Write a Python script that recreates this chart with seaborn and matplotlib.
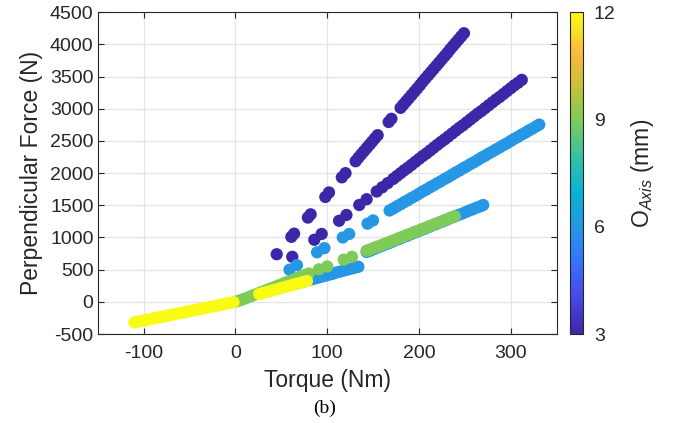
import matplotlib
matplotlib.use("Agg")
import matplotlib.pyplot as plt
import seaborn as sns
import pandas as pd
from matplotlib.colors import LinearSegmentedColormap, Normalize
from matplotlib.cm import ScalarMappable

sns.set_style("white")
plt.rcParams["font.family"] = ["Liberation Sans", "DejaVu Sans"]
plt.rcParams["mathtext.fontset"] = "custom"
plt.rcParams["mathtext.rm"] = "Liberation Sans"
plt.rcParams["mathtext.it"] = "Liberation Sans:italic"
plt.rcParams["axes.unicode_minus"] = False

# ---------------- data ----------------
# O_Axis = 3 mm, steep branch
torque_o3_a = [45, 61, 64, 79, 82, 98, 102, 116, 120,
               131, 134, 137, 140, 143, 146, 149, 152, 155, 167, 170,
               180, 183, 186, 189, 192, 195, 198, 201, 204, 207, 210, 213,
               216, 219, 222, 225, 228, 231, 234, 237, 240, 243, 246, 249]
force_o3_a = [740, 1010, 1060, 1310, 1360, 1630, 1700, 1935, 2000,
              2185, 2240, 2290, 2340, 2390, 2440, 2490, 2540, 2590, 2795, 2845,
              3015, 3065, 3115, 3165, 3215, 3265, 3315, 3365, 3420, 3470, 3520, 3570,
              3620, 3670, 3720, 3770, 3820, 3870, 3925, 3975, 4025, 4075, 4125, 4175]
# O_Axis = 3 mm, second branch
torque_o3_b = [62, 86, 94, 113, 121, 135, 143, 154, 160, 166,
               172, 176, 180, 184, 188, 192, 196, 200, 204, 208, 212, 216,
               220, 224, 228, 232, 236, 240, 244, 248, 252, 256, 260, 264,
               268, 272, 276, 280, 284, 288, 292, 296, 300, 304, 308, 312]
force_o3_b = [700, 965, 1055, 1260, 1350, 1505, 1595, 1715, 1780, 1845,
              1910, 1955, 2000, 2045, 2085, 2130, 2175, 2220, 2265, 2305, 2350, 2395,
              2440, 2485, 2525, 2570, 2615, 2660, 2705, 2745, 2790, 2835, 2880, 2925,
              2965, 3010, 3055, 3100, 3145, 3185, 3230, 3275, 3320, 3365, 3405, 3450]
# O_Axis = 6 mm, upper branch
torque_o6_a = [59, 67, 89, 97, 117, 124, 144, 150,
               168, 172, 176, 180, 184, 188, 192, 196, 200, 204, 208, 212, 216,
               220, 224, 228, 232, 236, 240, 244, 248, 252, 256, 260, 264, 268,
               272, 276, 280, 284, 288, 292, 296, 300, 304, 308, 312, 316, 320,
               324, 328, 331]
force_o6_a = [500, 570, 770, 835, 1000, 1055, 1215, 1265,
              1420, 1450, 1485, 1515, 1550, 1580, 1615, 1645, 1680, 1715, 1745, 1780, 1810,
              1845, 1875, 1910, 1940, 1975, 2010, 2040, 2075, 2105, 2140, 2170, 2205, 2240,
              2270, 2305, 2335, 2370, 2400, 2435, 2465, 2500, 2535, 2565, 2600, 2630, 2665,
              2695, 2730, 2755]
# O_Axis = 6 mm, short lower branch
torque_o6_b = [66, 70, 74, 78, 82, 86, 90, 94, 98, 102, 106, 110, 114, 118, 122, 126, 130, 134]
force_o6_b = [280, 295, 310, 330, 345, 360, 375, 390, 405, 420, 435, 455, 470, 485, 500, 515, 530, 545]
# O_Axis = 6 mm, branch under the 9 mm data
torque_o6_c = [143, 147, 151, 155, 159, 163, 167, 171, 175, 179, 183, 187, 191, 195, 199,
               203, 207, 211, 215, 219, 223, 227, 231, 235, 239, 243, 247, 251, 255, 259,
               263, 267, 270]
force_o6_c = [775, 795, 820, 845, 865, 890, 910, 935, 960, 980, 1005, 1025, 1050, 1075, 1095,
              1120, 1140, 1165, 1190, 1210, 1235, 1255, 1280, 1305, 1325, 1350, 1370, 1395,
              1420, 1440, 1465, 1485, 1505]
# O_Axis = 9 mm
torque_o9 = [0, 4, 8, 12, 16, 20, 24, 28, 32, 36, 40, 44, 48, 52, 56, 60, 64, 68, 72, 76, 80,
             91, 100, 118, 127,
             143, 147, 151, 155, 159, 163, 167, 171, 175, 179, 183, 187, 191, 195, 199,
             203, 207, 211, 215, 219, 223, 227, 231, 235, 239]
force_o9 = [0, 18, 37, 59, 82, 104, 126, 149, 171, 194, 216, 238, 261, 283, 306, 328, 350,
            373, 395, 418, 440,
            505, 550, 655, 700,
            795, 815, 840, 860, 880, 905, 925, 950, 970, 995, 1015, 1040, 1060, 1085, 1105,
            1130, 1150, 1175, 1195, 1220, 1240, 1265, 1285, 1310, 1330]
# O_Axis = 12 mm
torque_o12 = [-110, -106, -102, -98, -94, -90, -86, -82, -78, -74, -70, -66, -62, -58,
              -54, -50, -46, -42, -38, -34, -30, -26, -22, -18, -14, -10, -6, -2,
              26, 30, 34, 38, 42, 46, 50, 54, 58, 62, 66, 70, 74, 78]
force_o12 = [-319, -307, -296, -284, -273, -261, -249, -238, -226, -215, -203, -191, -180,
             -168, -157, -145, -133, -122, -110, -99, -87, -75, -64, -52, -41, -29, -17, -6,
             121, 137, 153, 168, 184, 199, 215, 231, 246, 262, 277, 293, 309, 324]

o_axis_values = [3, 3, 6, 6, 6, 9, 12]
x_ticks = [-100, 0, 100, 200, 300]
y_ticks = [-500, 0, 500, 1000, 1500, 2000, 2500, 3000, 3500, 4000, 4500]
cbar_ticks = [3, 6, 9, 12]

series = [
    (torque_o3_a, force_o3_a),
    (torque_o3_b, force_o3_b),
    (torque_o6_a, force_o6_a),
    (torque_o6_b, force_o6_b),
    (torque_o6_c, force_o6_c),
    (torque_o9, force_o9),
    (torque_o12, force_o12),
]
frames = [pd.DataFrame({"Torque": t, "Force": f, "O": o})
          for (t, f), o in zip(series, o_axis_values)]
df = pd.concat(frames, ignore_index=True)

# parula-like colormap
parula = LinearSegmentedColormap.from_list("parula", [
    (0.000, (0.2422, 0.1504, 0.6603)),
    (0.125, (0.2760, 0.3000, 0.9300)),
    (0.250, (0.1900, 0.4900, 0.9800)),
    (0.333, (0.1500, 0.5900, 0.9000)),
    (0.440, (0.0300, 0.7000, 0.8200)),
    (0.550, (0.2000, 0.7600, 0.6500)),
    (0.667, (0.5000, 0.7950, 0.3500)),
    (0.780, (0.8000, 0.7500, 0.2300)),
    (0.880, (0.9900, 0.7300, 0.2400)),
    (0.940, (0.9700, 0.8700, 0.1500)),
    (1.000, (0.9769, 0.9839, 0.0805)),
])

txt = "#262626"
fig = plt.figure(figsize=(6.83, 4.23), dpi=100)
ax = fig.add_axes([0.143, 0.2104, 0.672, 0.7605])
ax.set_axisbelow(True)
sns.scatterplot(data=df, x="Torque", y="Force", hue="O", palette=parula,
                hue_norm=(3, 12), s=78, linewidth=0, edgecolor="none",
                legend=False, ax=ax)

ax.set_xlim(-150, 350)
ax.set_ylim(-500, 4500)
ax.set_xticks(x_ticks)
ax.set_yticks(y_ticks)
ax.grid(True, color="#e4e4e4", linewidth=0.9)
for sp in ax.spines.values():
    sp.set_visible(True)
    sp.set_color(txt)
    sp.set_linewidth(0.8)
ax.tick_params(axis="both", direction="in", length=4, width=0.8, top=True,
               right=True, bottom=True, left=True, labelsize=14, colors=txt)
ax.tick_params(axis="x", pad=8)
ax.tick_params(axis="y", pad=3)
ax.set_xlabel("Torque (Nm)", fontsize=16.5, color=txt, labelpad=5)
ax.set_ylabel("Perpendicular Force (N)", fontsize=16.5, color=txt, labelpad=5)

cax = fig.add_axes([0.8346, 0.2104, 0.0186, 0.7605])
cb = fig.colorbar(ScalarMappable(norm=Normalize(3, 12), cmap=parula), cax=cax,
                  ticks=cbar_ticks)
cb.outline.set_edgecolor(txt)
cb.outline.set_linewidth(0.8)
cb.ax.tick_params(direction="in", length=3, width=0.8, labelsize=14, colors=txt, pad=8)
cb.set_label(r"O$_{\mathit{Axis}}$ (mm)", fontsize=16.5, color=txt, labelpad=10)

fig.text(325 / 683, 1 - 408 / 423, "(b)", family="Liberation Serif",
         fontsize=14, ha="center", va="center", color="black")

fig.savefig("out.png", dpi=100)
